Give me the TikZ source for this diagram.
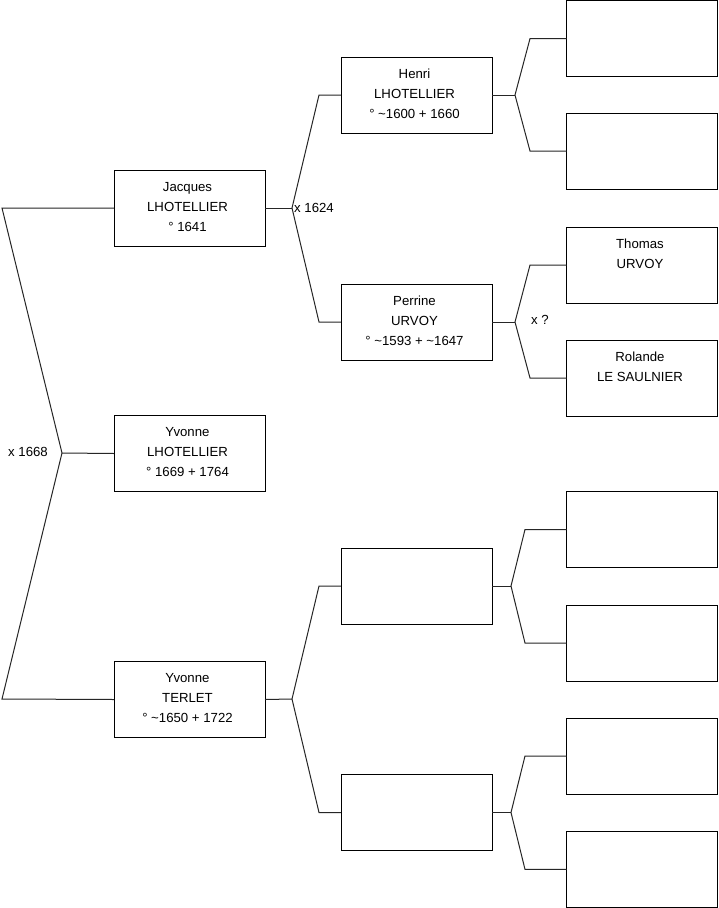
\documentclass[tikz,border=0pt]{standalone}
\usepackage{fontspec}
\setmainfont{Liberation Sans}
\begin{document}
\begin{tikzpicture}[x=1pt,y=-1pt]
\tikzset{
 box/.style={draw, minimum width=151pt, minimum height=76pt, inner sep=0pt, outer sep=0pt, line width=1pt},
 txt/.style={anchor=north, align=center, inner sep=0pt, font=\fontsize{13.2}{20}\selectfont},
 lbl/.style={anchor=west, inner sep=0pt, font=\fontsize{13.2}{16}\selectfont},
 link/.style={line width=1pt, draw=black!85}
}
\useasboundingbox (0,0) rectangle (719,908);
\fill[white] (0,0) rectangle (719,908);
% column 1
\node[box] (jacques) at (189.5,208) {};
\node[box] (yvonne) at (189.5,453.5) {};
\node[box] (terlet) at (189.5,699.5) {};
% column 2
\node[box] (henri) at (416.5,95) {};
\node[box] (perrine) at (416.5,322) {};
\node[box] (ua) at (416.5,586) {};
\node[box] (ub) at (416.5,812.5) {};
% column 3
\node[box] (r1) at (642,38.6) {};
\node[box] (r2) at (642,151) {};
\node[box] (thomas) at (642,265) {};
\node[box] (rolande) at (642,378) {};
\node[box] (r5) at (642,529.5) {};
\node[box] (r6) at (642,643) {};
\node[box] (r7) at (642,756) {};
\node[box] (r8) at (642,869.4) {};
% texts
\node[txt] (jacquesT) at ([xshift=-2pt,yshift=-12.2pt]jacques.north) {Jacques\\LHOTELLIER\\° 1641};
\node[txt] (yvonneT) at ([xshift=-2pt,yshift=-12.2pt]yvonne.north) {Yvonne\\LHOTELLIER\\° 1669 + 1764};
\node[txt] (terletT) at ([xshift=-2pt,yshift=-12.2pt]terlet.north) {Yvonne\\TERLET\\° \textasciitilde1650 + 1722};
\node[txt] (henriT) at ([xshift=-2pt,yshift=-12.2pt]henri.north) {Henri\\LHOTELLIER\\° \textasciitilde1600 + 1660};
\node[txt] (perrineT) at ([xshift=-2pt,yshift=-12.2pt]perrine.north) {Perrine\\URVOY\\° \textasciitilde1593 + \textasciitilde1647};
\node[txt] (thomasT) at ([xshift=-2pt,yshift=-12.2pt]thomas.north) {Thomas\\URVOY};
\node[txt] (rolandeT) at ([xshift=-2pt,yshift=-12.2pt]rolande.north) {Rolande\\LE SAULNIER};
% junction coordinates
\coordinate (j0) at (2,208);
\coordinate (c0) at (62,453);
\coordinate (t0) at (2,699);
\coordinate (c1) at (292,208);
\coordinate (c1a) at (319,95);
\coordinate (c1b) at (319,322);
\coordinate (c2) at (292,699);
\coordinate (c2a) at (319,586);
\coordinate (c2b) at (319,812.5);
\coordinate (h0) at (515,95);
\coordinate (h1) at (530,38.6);
\coordinate (h2) at (530,151);
\coordinate (p0) at (515,322);
\coordinate (p1) at (530,265);
\coordinate (p2) at (530,378);
\coordinate (a0) at (511,586);
\coordinate (a1) at (525,529.5);
\coordinate (a2) at (525,643);
\coordinate (b0) at (511,812.5);
\coordinate (b1) at (525,756);
\coordinate (b2) at (525,869.4);
% connectors
\draw[link] (jacques.west) -- (j0) -- (c0) -- (t0) -- (terlet.west);
\draw[link] (c0) -- (yvonne.west);
\draw[link] (jacques.east) -- (c1);
\draw[link] (henri.west) -- (c1a) -- (c1) -- (c1b) -- (perrine.west);
\draw[link] (terlet.east) -- (c2);
\draw[link] (ua.west) -- (c2a) -- (c2) -- (c2b) -- (ub.west);
\draw[link] (henri.east) -- (h0);
\draw[link] (r1.west) -- (h1) -- (h0) -- (h2) -- (r2.west);
\draw[link] (perrine.east) -- (p0);
\draw[link] (thomas.west) -- (p1) -- (p0) -- (p2) -- (rolande.west);
\draw[link] (ua.east) -- (a0);
\draw[link] (r5.west) -- (a1) -- (a0) -- (a2) -- (r6.west);
\draw[link] (ub.east) -- (b0);
\draw[link] (r7.west) -- (b1) -- (b0) -- (b2) -- (r8.west);
% labels
\node[lbl] (m1668) at (8,452) {x 1668};
\node[lbl] (m1624) at (294,208) {x 1624};
\node[lbl] (mq) at (531,320) {x ?};
\end{tikzpicture}
\end{document}
